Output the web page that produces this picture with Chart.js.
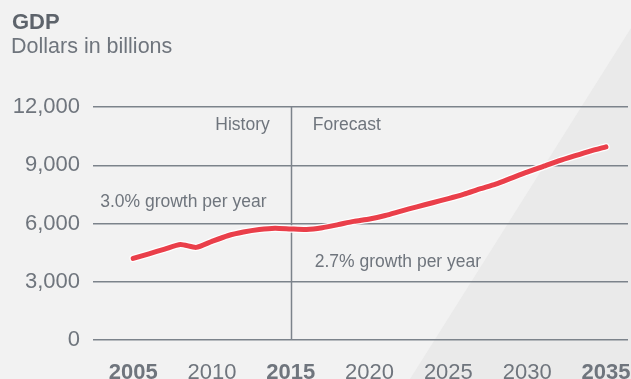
<!DOCTYPE html>
<html>
<head>
<meta charset="utf-8">
<script src="https://cdn.jsdelivr.net/npm/chart.js@4/dist/chart.umd.min.js"></script>
<style>
  html, body { margin: 0; padding: 0; background: #f2f2f2; }
  #wrap { position: relative; width: 631px; height: 379px; overflow: hidden; }
  canvas { position: absolute; left: 0; top: 0; }
  .t1 { position: absolute; left: 12px; top: 9px; font: bold 22px "Liberation Sans", Arial, sans-serif; color: #5d636b; }
  .t2 { position: absolute; left: 11px; top: 34px; font: 21.5px "Liberation Sans", Arial, sans-serif; color: #6f757d; }
</style>
</head>
<body>
<div id="wrap">
  <canvas id="c" width="631" height="379"></canvas>
  <div class="t1">GDP</div>
  <div class="t2">Dollars in billions</div>
</div>
<script>
const years = [2005,2006,2007,2008,2009,2010,2011,2012,2013,2014,2015,
               2016,2017,2018,2019,2020,2021,2022,2023,2024,2025,
               2026,2027,2028,2029,2030,2031,2032,2033,2034,2035];
const gdp = [4200,4440,4680,4920,4770,5080,5370,5560,5690,5760,5720,
             5690,5780,5940,6110,6230,6410,6640,6860,7070,7280,
             7510,7780,8030,8340,8650,8930,9220,9480,9730,9950];
const xTicks = [2005,2010,2015,2020,2025,2030,2035];
const boldYears = [2005,2015,2035];
const yTicks = [0,3000,6000,9000,12000];
const dividerYear = 2015;
const notes = [
  { text: "History", x: 2015, y: 10820, align: "right", dx: -21 },
  { text: "Forecast", x: 2015, y: 10820, align: "left", dx: 22 },
  { text: "3.0% growth per year", x: 2005, y: 6850, align: "left", dx: -33 },
  { text: "2.7% growth per year", x: 2015, y: 3775, align: "left", dx: 24 }
];

const textColor = "#6f757d";
const gridColor = "#7c838b";
const FONT = '"Liberation Sans", Arial, sans-serif';

const bgPlugin = {
  id: "bg",
  beforeDraw(chart) {
    const ctx = chart.ctx, w = chart.width, h = chart.height;
    ctx.save();
    ctx.fillStyle = "#f2f2f2";
    ctx.fillRect(0, 0, w, h);
    ctx.fillStyle = "#eaeaea";
    ctx.beginPath();
    ctx.moveTo(410, h);
    ctx.lineTo(w, 28);
    ctx.lineTo(w, h);
    ctx.closePath();
    ctx.fill();
    ctx.restore();
  },
  beforeDatasetsDraw(chart) {
    const ctx = chart.ctx, xs = chart.scales.x, ys = chart.scales.y;
    const x = Math.round(xs.getPixelForValue(dividerYear)) + 0.5;
    ctx.save();
    ctx.strokeStyle = gridColor;
    ctx.lineWidth = 1.5;
    ctx.beginPath();
    ctx.moveTo(x, ys.getPixelForValue(12000));
    ctx.lineTo(x, ys.getPixelForValue(0));
    ctx.stroke();
    ctx.fillStyle = textColor;
    ctx.font = "17.5px " + FONT;
    ctx.textBaseline = "alphabetic";
    notes.forEach(n => {
      ctx.textAlign = n.align;
      ctx.fillText(n.text, xs.getPixelForValue(n.x) + n.dx, ys.getPixelForValue(n.y));
    });
    ctx.restore();
  }
};

new Chart(document.getElementById("c"), {
  type: "line",
  data: {
    datasets: [
      {
        data: years.map((y, i) => ({ x: y, y: gdp[i] })),
        borderColor: "#ea3f4a",
        borderWidth: 5,
        borderCapStyle: "round",
        borderJoinStyle: "round",
        pointRadius: 0,
        tension: 0.2,
        order: 0
      },
      {
        data: years.map((y, i) => ({ x: y, y: gdp[i] })),
        borderColor: "rgba(255,255,255,0.95)",
        borderWidth: 7.5,
        borderCapStyle: "round",
        borderJoinStyle: "round",
        pointRadius: 0,
        tension: 0.2,
        order: 1
      }
    ]
  },
  options: {
    responsive: false,
    animation: false,
    layout: { padding: { left: 12, right: 3, top: 107, bottom: 0 } },
    plugins: { legend: { display: false }, tooltip: { enabled: false } },
    scales: {
      x: {
        type: "linear",
        min: 2002.45,
        max: 2036.4,
        afterBuildTicks: s => { s.ticks = xTicks.map(v => ({ value: v })); },
        afterFit: s => { s.height = 39; s.paddingLeft = 0; s.paddingRight = 0; },
        grid: { display: false, drawTicks: false },
        border: { display: false },
        ticks: {
          padding: 20,
          color: textColor,
          autoSkip: false,
          maxRotation: 0,
          callback: v => String(v),
          font: ctx => ({ family: FONT, size: 22, weight: boldYears.includes(ctx.tick && ctx.tick.value) ? "bold" : "normal" })
        }
      },
      y: {
        min: 0,
        max: 12000,
        afterBuildTicks: s => { s.ticks = yTicks.map(v => ({ value: v })); },
        afterFit: s => { s.width = 81; s.paddingTop = 0; s.paddingBottom = 0; },
        grid: { color: gridColor, lineWidth: 1.5, drawTicks: false },
        border: { display: false },
        ticks: {
          padding: 13,
          color: textColor,
          font: { family: FONT, size: 22 },
          callback: v => v.toLocaleString("en-US")
        }
      }
    }
  },
  plugins: [bgPlugin]
});
</script>
</body>
</html>
